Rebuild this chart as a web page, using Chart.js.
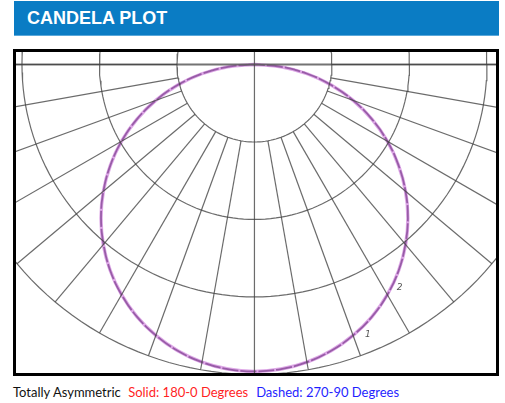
<!DOCTYPE html>
<html>
<head>
<meta charset="utf-8">
<title>Candela Plot</title>
<script src="https://cdn.jsdelivr.net/npm/chart.js@4.4.1/dist/chart.umd.min.js"></script>
<style>
    body { margin: 0; background: #fff; width: 505px; height: 403px; position: relative; overflow: hidden; }
    .header {
        position: absolute; left: 14px; top: 1px; width: 485px; height: 35px;
        background: #0a7cc4; border-bottom: 1px solid #5aa8da; box-sizing: border-box;
        color: #fff; font-family: "Liberation Sans", Arial, sans-serif; font-weight: bold;
        font-size: 18px; line-height: 35px; padding-left: 13px;
    }
    .frame {
        position: absolute; left: 13px; top: 49px; width: 486px; height: 327px;
        border: 3px solid #000; box-sizing: border-box;
    }
    #plot-wrap { position: absolute; left: 16px; top: 52px; width: 480px; height: 321px; }
    .caption {
        position: absolute; left: 13px; top: 384px; font-family: Lato, "Open Sans", sans-serif;
        font-size: 13px; white-space: nowrap; color: #111;
    }
    .caption .red { color: #ff1f1f; margin-left: 4px; }
    .caption .blue { color: #1f1fff; margin-left: 8px; }
</style>
</head>
<body>
<div class="header">CANDELA PLOT</div>
<div class="frame"></div>
<div id="plot-wrap"><canvas id="candelaChart" width="480" height="321"></canvas></div>
<div class="caption">Totally Asymmetric <span class="red">Solid: 180-0 Degrees</span><span class="blue">Dashed: 270-90 Degrees</span></div>

<script>
// vertical angles from nadir (degrees)
const angles = [0, 5, 10, 15, 20, 25, 30, 35, 40, 45, 50, 55, 60, 65, 70, 75, 80, 85, 90];

// candela values, per plane
const cd180 = [3960, 3945, 3900, 3825, 3720, 3590, 3430, 3245, 3035, 2800, 2545, 2270, 1980, 1675, 1355, 1025, 690, 345, 0];
const cd0   = [3960, 3945, 3900, 3825, 3720, 3590, 3430, 3245, 3035, 2800, 2545, 2270, 1980, 1675, 1355, 1025, 690, 345, 0];
const cd270 = [3960, 3945, 3900, 3825, 3720, 3590, 3430, 3245, 3030, 2800, 2545, 2270, 1980, 1675, 1355, 1025, 690, 345, 0];
const cd90  = [3960, 3945, 3900, 3825, 3720, 3590, 3430, 3245, 3030, 2800, 2545, 2270, 1980, 1675, 1355, 1025, 690, 345, 0];

// grid: rings (cd) and radial lines (degrees from nadir, both sides)
const ringValues = [1000, 2000, 3000, 4000];
const radialAngles = [-90, -80, -70, -60, -50, -40, -30, -20, -10, 0, 10, 20, 30, 40, 50, 60, 70, 80, 90];

const rad = d => d * Math.PI / 180;

// left half = first plane, right half = second plane
function planePoints(leftVals, rightVals) {
    const pts = [];
    for (let i = angles.length - 1; i >= 0; i--) {
        const a = rad(angles[i]);
        pts.push({ x: -leftVals[i] * Math.sin(a), y: -leftVals[i] * Math.cos(a) });
    }
    for (let i = 1; i < angles.length; i++) {
        const a = rad(angles[i]);
        pts.push({ x: rightVals[i] * Math.sin(a), y: -rightVals[i] * Math.cos(a) });
    }
    return pts;
}

const gridColor = 'rgba(65,65,65,0.78)';
const gridSets = [];

ringValues.forEach(r => {
    const pts = [];
    for (let d = 0; d <= 360; d += 2) pts.push({ x: r * Math.cos(rad(d)), y: r * Math.sin(rad(d)) });
    gridSets.push({ data: pts, borderColor: gridColor, borderWidth: 1.2 });
});

radialAngles.forEach(d => {
    const a = rad(d);
    const inner = d === 0 ? 0 : ringValues[0];
    const outer = d === 0 ? 6000 : ringValues[ringValues.length - 1];
    gridSets.push({
        data: [
            { x: inner * Math.sin(a), y: -inner * Math.cos(a) },
            { x: outer * Math.sin(a), y: -outer * Math.cos(a) }
        ],
        borderColor: gridColor, borderWidth: 1.2
    });
});

// horizontal 90° line and vertical line through the top
gridSets.push({ data: [{ x: -6000, y: 0 }, { x: 6000, y: 0 }], borderColor: 'rgba(90,90,90,0.85)', borderWidth: 2 });
gridSets.push({ data: [{ x: 0, y: 0 }, { x: 0, y: 1000 }], borderColor: gridColor, borderWidth: 1.2 });

const labelPlugin = {
    id: 'curveLabels',
    afterDatasetsDraw(chart) {
        const { ctx, scales: { x, y } } = chart;
        const marks = [['1', 22.8, 3780], ['2', 33, 3440]];
        ctx.save();
        ctx.fillStyle = '#555';
        ctx.font = 'italic 9px "DejaVu Sans"';
        ctx.textAlign = 'center';
        ctx.textBaseline = 'middle';
        marks.forEach(([t, d, r]) => {
            ctx.fillText(t, x.getPixelForValue(r * Math.sin(rad(d))), y.getPixelForValue(-r * Math.cos(rad(d))));
        });
        ctx.restore();
    }
};

new Chart(document.getElementById('candelaChart'), {
    type: 'scatter',
    data: {
        datasets: [
            ...gridSets,
            {
                label: 'Solid: 180-0',
                data: planePoints(cd180, cd0),
                borderColor: 'rgba(200,110,215,0.6)',
                borderWidth: 3.4,
                tension: 0.4
            },
            {
                label: 'Dashed: 270-90',
                data: planePoints(cd270, cd90),
                borderColor: 'rgb(80,66,96)',
                borderWidth: 1.8,
                borderDash: [16, 2],
                tension: 0.4
            }
        ].map(ds => Object.assign({ showLine: true, pointRadius: 0, fill: false }, ds))
    },
    options: {
        responsive: false,
        animation: false,
        layout: { padding: 0 },
        plugins: { legend: { display: false }, tooltip: { enabled: false } },
        scales: {
            x: { type: 'linear', display: false, min: -3077, max: 3117 },
            y: { type: 'linear', display: false, min: -3981, max: 161 }
        }
    },
    plugins: [labelPlugin]
});
</script>
</body>
</html>
